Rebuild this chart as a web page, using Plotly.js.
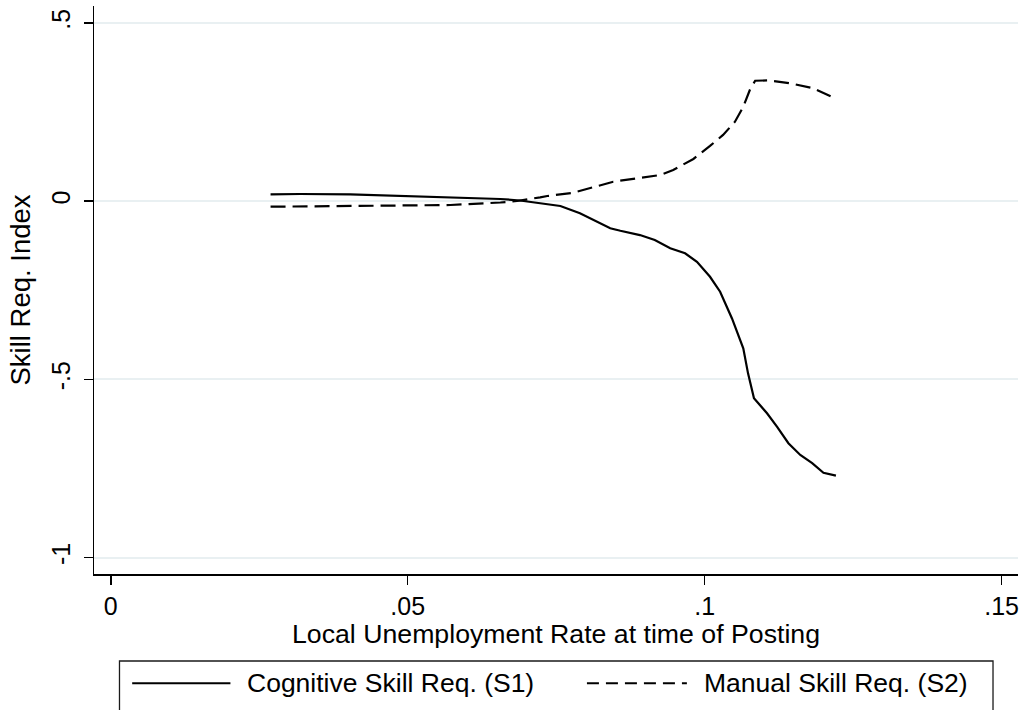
<!DOCTYPE html>
<html>
<head>
<meta charset="utf-8">
<script src="https://cdn.plot.ly/plotly-3.0.1.min.js"></script>
<style>
  html, body { margin: 0; padding: 0; background: #fff; }
  #chart { width: 1023px; height: 710px; }
</style>
</head>
<body>
<div id="chart"></div>
<script>
// ---- Data ----
var cognitiveX = [0.0269, 0.0319, 0.0403, 0.0488, 0.0572, 0.0656, 0.0689, 0.0723, 0.0757, 0.0790, 0.0824, 0.0841, 0.0858, 0.0891, 0.0916, 0.0942, 0.0967, 0.0987, 0.1009, 0.1026, 0.1046, 0.1065, 0.1073, 0.1083, 0.1105, 0.1122, 0.1141, 0.1161, 0.1181, 0.1200, 0.1221];
var cognitiveY = [0.0194, 0.0202, 0.0190, 0.0146, 0.0118, 0.0062, 0.0020, -0.0059, -0.0135, -0.034, -0.062, -0.076, -0.083, -0.095, -0.109, -0.132, -0.146, -0.170, -0.212, -0.254, -0.329, -0.413, -0.483, -0.553, -0.595, -0.633, -0.679, -0.712, -0.735, -0.762, -0.770];

var manualX = [0.0269, 0.0403, 0.0488, 0.0572, 0.0656, 0.0684, 0.0723, 0.0735, 0.0779, 0.0812, 0.0846, 0.0886, 0.0925, 0.0947, 0.0959, 0.0981, 0.1009, 0.1031, 0.1051, 0.1065, 0.1076, 0.1085, 0.1107, 0.1144, 0.1182, 0.1219];
var manualY = [-0.0154, -0.0140, -0.0126, -0.0107, -0.0036, 0.0006, 0.0109, 0.0146, 0.0238, 0.0390, 0.0547, 0.0643, 0.0735, 0.0875, 0.0988, 0.1185, 0.155, 0.186, 0.223, 0.265, 0.312, 0.338, 0.339, 0.331, 0.317, 0.289];

var seriesNames = ["Cognitive Skill Req. (S1)", "Manual Skill Req. (S2)"];

var xTickVals = [0, 0.05, 0.1, 0.15];
var xTickText = ["0", ".05", ".1", ".15"];
var yTickVals = [0.5, 0, -0.5, -1];
var yTickText = [".5", "0", "-.5", "-1"];

var xTitle = "Local Unemployment Rate at time of Posting";
var yTitle = "Skill Req. Index";

// ---- Layout helpers (pixel -> paper) ----
var W = 1023, H = 710;
var plotL = 93.5, plotR = 1018, plotT = 6, plotB = 574;
function px(x) { return (x - plotL) / (plotR - plotL); }
function py(y) { return (plotB - y) / (plotB - plotT); }

var FONT = "Liberation Sans, Arial, Helvetica, sans-serif";

var traces = [
  {
    x: cognitiveX, y: cognitiveY, name: seriesNames[0],
    type: "scatter", mode: "lines",
    line: { color: "#000000", width: 2.2 },
    showlegend: false, hoverinfo: "skip"
  },
  {
    x: manualX, y: manualY, name: seriesNames[1],
    type: "scatter", mode: "lines",
    line: { color: "#000000", width: 2.2, dash: "15px,7px" },
    showlegend: false, hoverinfo: "skip"
  }
];

var legendY = 683.3;
var shapes = [
  // legend box
  { type: "rect", xref: "paper", yref: "paper",
    x0: px(119), x1: px(993), y0: py(661), y1: py(716),
    line: { color: "#1a1a1a", width: 1.3 }, fillcolor: "rgba(0,0,0,0)" },
  // legend sample lines
  { type: "line", xref: "paper", yref: "paper",
    x0: px(131.7), x1: px(230), y0: py(legendY), y1: py(legendY),
    line: { color: "#000", width: 2 } },
  { type: "line", xref: "paper", yref: "paper",
    x0: px(586.7), x1: px(686.7), y0: py(legendY), y1: py(legendY),
    line: { color: "#000", width: 2, dash: "12px,7px" } }
];

var annotations = [
  { xref: "paper", yref: "paper", x: px(245), y: py(legendY),
    xanchor: "left", yanchor: "middle", showarrow: false,
    text: seriesNames[0], font: { family: FONT, size: 26.5, color: "#000" } },
  { xref: "paper", yref: "paper", x: px(702), y: py(legendY),
    xanchor: "left", yanchor: "middle", showarrow: false,
    text: seriesNames[1], font: { family: FONT, size: 26.5, color: "#000" } }
];

var layout = {
  width: W, height: H,
  paper_bgcolor: "#ffffff", plot_bgcolor: "#ffffff",
  margin: { l: plotL, r: W - plotR, t: plotT, b: H - plotB, pad: 0 },
  showlegend: false,
  font: { family: FONT, color: "#000" },
  xaxis: {
    range: [-0.00283, 0.15276],
    tickmode: "array", tickvals: xTickVals, ticktext: xTickText,
    ticks: "outside", ticklen: 9, tickwidth: 1.5, tickcolor: "#000",
    tickfont: { family: FONT, size: 25, color: "#000" },
    showline: true, linecolor: "#000", linewidth: 1.5,
    showgrid: false, zeroline: false,
    title: { text: xTitle, font: { family: FONT, size: 26.7, color: "#000" }, standoff: 2 }
  },
  yaxis: {
    range: [-1.046, 0.5477],
    tickmode: "array", tickvals: yTickVals, ticktext: yTickText,
    ticks: "outside", ticklen: 9, tickwidth: 1.5, tickcolor: "#000",
    tickangle: -90, ticklabelstandoff: 4,
    tickfont: { family: FONT, size: 25, color: "#000" },
    showline: true, linecolor: "#000", linewidth: 1.5,
    showgrid: true, gridcolor: "#e9f0f2", gridwidth: 2,
    zeroline: false,
    title: { text: yTitle, font: { family: FONT, size: 27.5, color: "#000" }, standoff: 8 }
  },
  shapes: shapes,
  annotations: annotations
};

Plotly.newPlot("chart", traces, layout, { staticPlot: true, displayModeBar: false });
</script>
</body>
</html>
